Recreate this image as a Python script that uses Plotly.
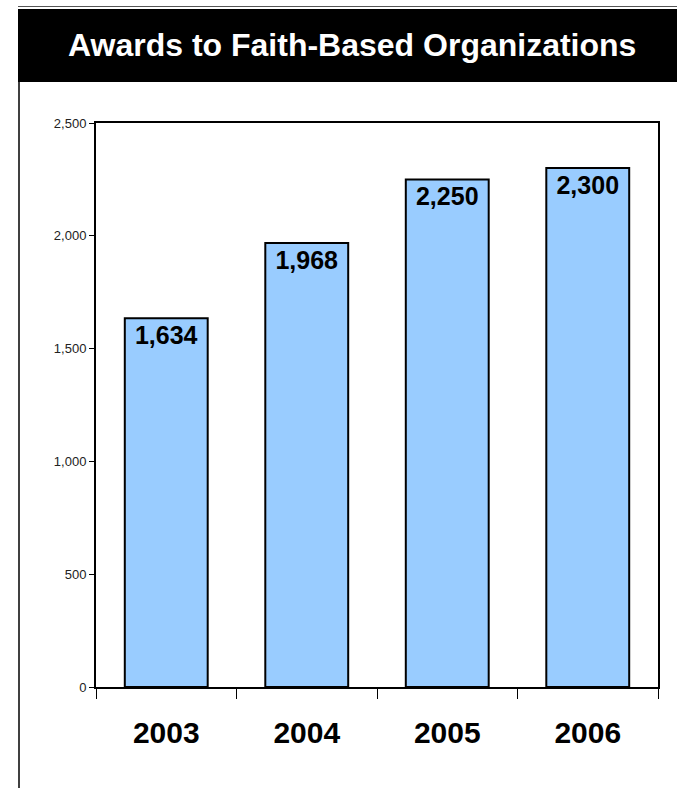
import plotly.graph_objects as go

years = ["2003", "2004", "2005", "2006"]
awards = [1634, 1968, 2250, 2300]
title_text = "Awards to Faith-Based Organizations"

FONT = "Arial, 'Liberation Sans', sans-serif"

W, H = 677, 788
L, R, T, B = 96, 19, 123, 101
pw = W - L - R
ph = H - T - B

def px_x(p):
    return (p - L) / pw

def px_y(p):
    return (H - B - p) / ph

fig = go.Figure(go.Bar(
    x=years, y=awards,
    marker=dict(color="#99CCFF", line=dict(color="black", width=2)),
    texttemplate="%{y:,}",
    textposition="inside",
    insidetextanchor="end",
    textangle=0,
    textfont=dict(family=FONT, size=25, color="black", weight="bold"),
    cliponaxis=False,
    hoverinfo="skip",
))

fig.update_layout(
    width=W, height=H,
    margin=dict(l=L, r=R, t=T, b=B, pad=0),
    paper_bgcolor="white", plot_bgcolor="white",
    bargap=0.41,
    showlegend=False,
    font=dict(family=FONT, color="black"),
    shapes=[
        dict(type="line", xref="paper", yref="paper",
             x0=px_x(18), x1=px_x(677), y0=px_y(6.5), y1=px_y(6.5),
             line=dict(color="#555555", width=1)),
        dict(type="rect", xref="paper", yref="paper",
             x0=px_x(18), x1=px_x(678), y0=px_y(82), y1=px_y(9),
             fillcolor="black", line=dict(width=0)),
        dict(type="line", xref="paper", yref="paper",
             x0=px_x(19), x1=px_x(19), y0=px_y(82), y1=px_y(790),
             line=dict(color="black", width=1.5)),
    ],
    annotations=[
        dict(text=title_text, xref="paper", yref="paper",
             x=px_x(352), y=px_y(45.5), xanchor="center", yanchor="middle",
             showarrow=False,
             font=dict(family=FONT, size=32, color="white", weight="bold")),
    ],
)

fig.update_yaxes(
    range=[0, 2500], dtick=500, tickformat=",",
    ticks="outside", ticklen=5, tickwidth=1, tickcolor="black",
    tickfont=dict(family=FONT, size=13, color="#222222"),
    showline=True, linewidth=2, linecolor="black", mirror=True,
    showgrid=False, zeroline=False,
)
fig.update_xaxes(
    tickson="boundaries",
    ticks="outside", ticklen=10, tickwidth=1, tickcolor="black",
    tickfont=dict(family=FONT, size=30, color="black", weight="bold"),
    ticklabelstandoff=18,
    showline=True, linewidth=2, linecolor="black", mirror=True,
    showgrid=False,
)

fig.write_html("out.html", config={"displayModeBar": False},
               post_script="document.body.style.margin='0';document.body.style.padding='0';")
